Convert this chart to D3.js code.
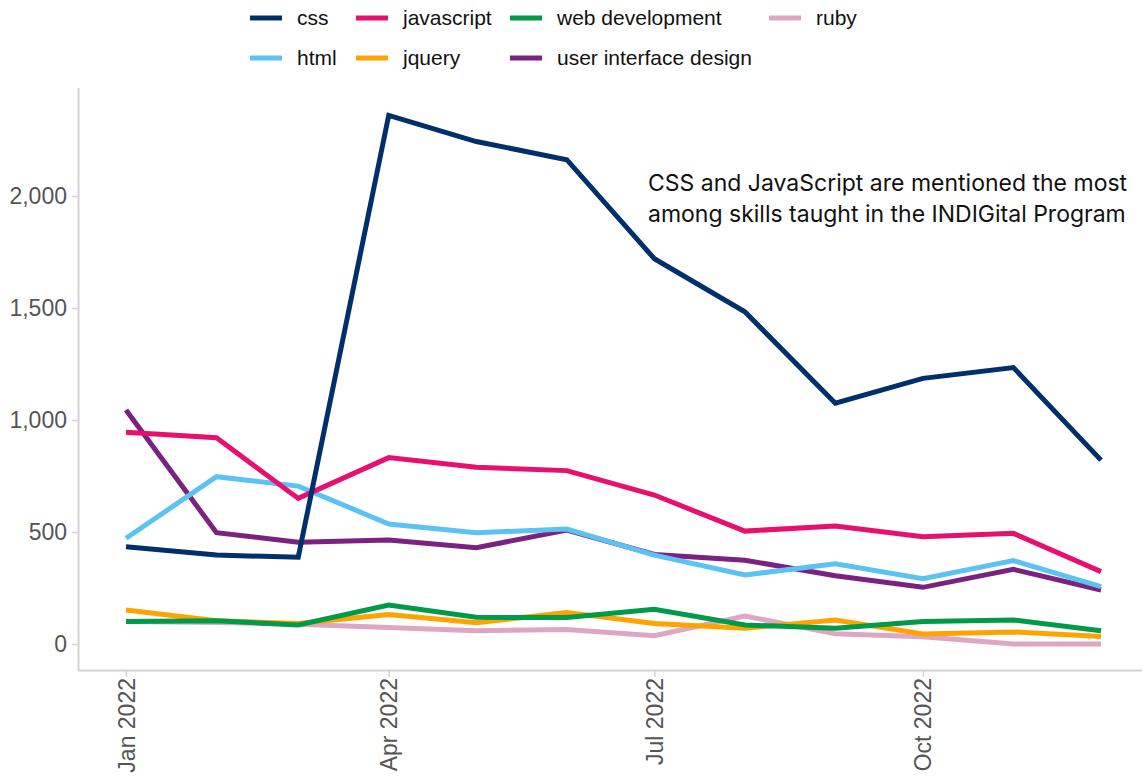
<!DOCTYPE html>
<html><head><meta charset="utf-8">
<script src="https://cdn.jsdelivr.net/npm/d3@7"></script>
<style>body{margin:0;background:#fff}svg{display:block}</style>
</head><body>
<script>
const months = ["2022-01","2022-02","2022-03","2022-04","2022-05","2022-06","2022-07","2022-08","2022-09","2022-10","2022-11","2022-12"];
const seriesNames = ["css","javascript","web development","ruby","html","jquery","user interface design"];
const css = [434,397,387,2360,2243,2162,1720,1483,1075,1186,1234,821];
const javascript = [945,921,650,832,789,774,665,504,527,479,494,323];
const html = [472,747,705,536,497,513,397,308,358,292,372,256];
const jquery = [152,104,92,132,95,141,92,70,107,45,54,34];
const webDevelopment = [100,104,85,174,119,118,155,85,70,100,107,59];
const userInterfaceDesign = [1045,497,454,464,430,509,400,374,305,253,333,241];
const ruby = [100,96,88,74,59,65,37,125,46,32,0,0];
const yTicks = [0,500,1000,1500,2000];
const xTickLabels = ["2022-01","2022-04","2022-07","2022-10"];
const annotation = ["CSS and JavaScript are mentioned the most","among skills taught in the INDIGital Program"];

const colors = {"css":"#002f6c","javascript":"#e8106e","web development":"#009b48","ruby":"#dea6c2","html":"#5bc2f4","jquery":"#ffa300","user interface design":"#7b2181"};
const valuesBy = {"css":css,"javascript":javascript,"web development":webDevelopment,"ruby":ruby,"html":html,"jquery":jquery,"user interface design":userInterfaceDesign};

const W=1142,H=780;
const parse = d3.timeParse("%Y-%m");
const dates = months.map(parse);
const svg = d3.select("body").append("svg").attr("width",W).attr("height",H);

const x = d3.scaleTime().domain([parse("2022-01"), parse("2022-12")]).range([126,1101]);
const y = d3.scaleLinear().domain([0,2000]).range([644,196]);

const axisColor="#d3d3d3", tickText="#555";
svg.append("line").attr("x1",78.5).attr("x2",78.5).attr("y1",88).attr("y2",670.5).attr("stroke",axisColor).attr("stroke-width",2);
svg.append("line").attr("x1",78).attr("x2",1142).attr("y1",670.5).attr("y2",670.5).attr("stroke",axisColor).attr("stroke-width",2);

const ya = svg.append("g").attr("transform","translate(78,0)")
  .call(d3.axisLeft(y).tickValues(yTicks).tickFormat(d3.format(",")).tickSize(6).tickPadding(5));
ya.select(".domain").remove();
ya.selectAll("line").attr("stroke",axisColor).attr("stroke-width",1.5);
ya.selectAll("text").attr("fill",tickText).style("font-family","'Liberation Sans',Arial,sans-serif").style("font-size","23px");

const fmt = d3.timeFormat("%b %Y");
const xa = svg.append("g").attr("transform","translate(0,671)")
  .call(d3.axisBottom(x).tickValues(xTickLabels.map(parse)).tickFormat(fmt).tickSize(6).tickPadding(6));
xa.select(".domain").remove();
xa.selectAll("line").attr("stroke",axisColor).attr("stroke-width",1.5);
xa.selectAll("text").attr("fill",tickText).style("font-family","'Liberation Sans',Arial,sans-serif").style("font-size","23px")
  .attr("transform","rotate(-90)").attr("text-anchor","end").attr("x",-7).attr("y",0).attr("dy","0.35em");

const line = d3.line().x((d,i)=>x(dates[i])).y(d=>y(d));
const drawOrder = ["ruby","jquery","web development","user interface design","html","javascript","css"];
drawOrder.forEach(n=>{
  svg.append("path").datum(valuesBy[n]).attr("d",line).attr("fill","none")
    .attr("stroke",colors[n]).attr("stroke-width",5).attr("stroke-linejoin","miter");
});

const legendPos = [
  {n:"css",x:250,y:18},{n:"javascript",x:356,y:18},{n:"web development",x:510,y:18},{n:"ruby",x:769,y:18},
  {n:"html",x:250,y:58},{n:"jquery",x:356,y:58},{n:"user interface design",x:510,y:58}
];
const lg = svg.append("g");
legendPos.forEach(p=>{
  lg.append("line").attr("x1",p.x).attr("x2",p.x+32).attr("y1",p.y).attr("y2",p.y).attr("stroke",colors[p.n]).attr("stroke-width",5);
  lg.append("text").attr("x",p.x+47).attr("y",p.y).attr("dy","0.35em").text(p.n)
    .style("font-family","'Liberation Sans',Arial,sans-serif").style("font-size","21px").attr("fill","#111");
});

const at = svg.append("text")
  .style("font-family","Inter,sans-serif").style("font-size","23px").attr("fill","#111");
annotation.forEach((t,i)=>at.append("tspan").attr("x",648).attr("y",191+i*31).text(t));
</script>
</body></html>
